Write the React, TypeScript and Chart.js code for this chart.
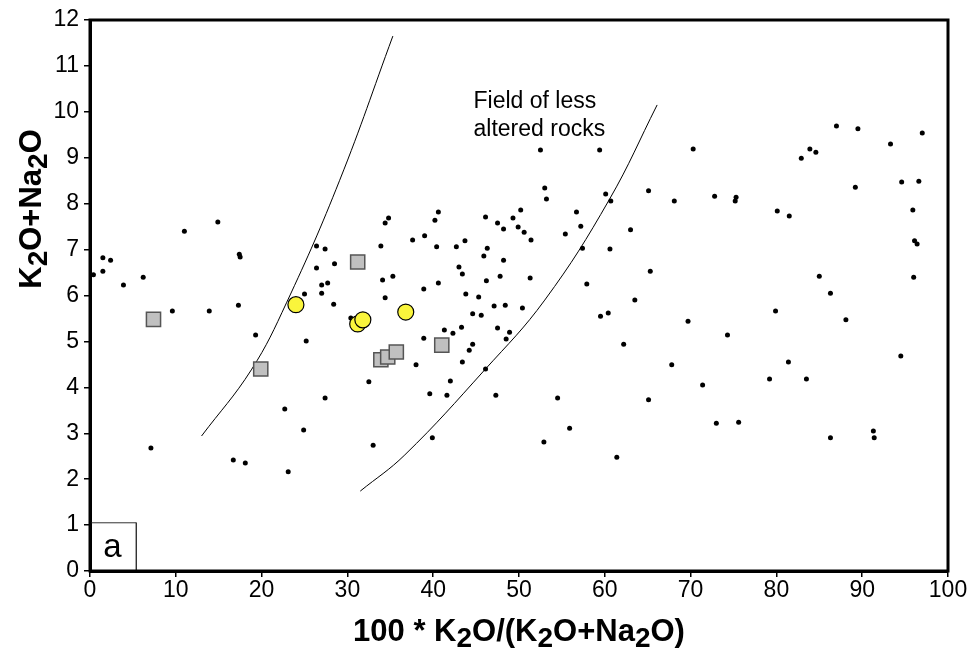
import React, { useEffect, useRef } from "react";
import { Chart, registerables } from "chart.js";

Chart.register(...registerables);

// ---- data ----
const smallDots: [number, number][] = [
  [0.4, 6.45], [1.5, 6.53], [1.5, 6.82], [2.4, 6.77], [3.9, 6.23], [6.2, 6.4], [9.6, 5.66], [11.0, 7.4],
  [13.9, 5.66], [14.9, 7.6], [17.4, 6.9], [17.5, 6.84], [17.3, 5.79], [7.1, 2.68], [16.7, 2.42], [18.1, 2.35],
  [19.3, 5.14], [22.7, 3.53], [23.1, 2.16], [24.9, 3.07], [25.2, 5.01], [25.0, 6.03], [26.4, 7.08], [27.4, 7.01],
  [26.4, 6.6], [28.5, 6.69], [27.0, 6.23], [27.7, 6.27], [27.0, 6.05], [28.4, 5.81], [27.4, 3.77], [30.4, 5.51],
  [32.5, 4.12], [33.0, 2.74], [33.9, 7.08], [34.1, 6.34], [34.4, 7.58], [34.8, 7.69], [35.3, 6.42], [34.4, 5.95],
  [37.6, 7.21], [39.0, 7.3], [40.2, 7.64], [40.6, 7.82], [40.4, 7.06], [42.7, 7.06], [43.7, 7.19], [46.1, 7.71],
  [47.5, 7.58], [48.2, 7.45], [49.3, 7.69], [50.2, 7.86], [49.9, 7.49], [50.6, 7.38], [51.4, 7.21], [46.3, 7.03],
  [45.9, 6.86], [48.2, 6.77], [43.0, 6.62], [43.4, 6.47], [46.2, 6.32], [47.8, 6.42], [51.3, 6.38], [40.6, 6.27],
  [38.9, 6.14], [43.8, 6.03], [45.3, 5.97], [47.1, 5.77], [48.4, 5.79], [50.4, 5.73], [44.6, 5.6], [45.6, 5.57],
  [41.3, 5.25], [43.3, 5.31], [47.5, 5.29], [38.9, 5.07], [42.3, 5.18], [48.5, 5.05], [48.9, 5.2], [44.2, 4.81],
  [44.6, 4.94], [38.0, 4.49], [43.4, 4.55], [46.1, 4.4], [42.0, 4.14], [39.6, 3.86], [41.6, 3.83], [47.3, 3.83],
  [39.9, 2.9], [52.5, 9.17], [53.0, 8.34], [53.2, 8.1], [55.4, 7.34], [56.7, 7.82], [57.2, 7.51], [57.4, 7.03],
  [57.9, 6.25], [59.4, 9.17], [60.1, 8.21], [60.7, 8.06], [60.6, 7.01], [59.5, 5.55], [60.4, 5.62], [62.2, 4.94],
  [63.0, 7.43], [63.5, 5.9], [65.1, 8.28], [65.3, 6.53], [65.1, 3.73], [54.5, 3.77], [55.9, 3.11], [52.9, 2.81],
  [61.4, 2.48], [67.8, 4.49], [68.1, 8.06], [69.7, 5.44], [70.3, 9.19], [71.4, 4.05], [72.8, 8.16], [73.0, 3.22],
  [74.3, 5.14], [75.2, 8.06], [75.3, 8.14], [75.6, 3.24], [79.2, 4.18], [79.9, 5.66], [80.1, 7.84], [81.4, 4.55],
  [81.5, 7.73], [82.9, 8.99], [83.5, 4.18], [83.9, 9.19], [84.6, 9.12], [85.0, 6.42], [86.3, 6.05], [86.3, 2.9],
  [87.0, 9.69], [88.1, 5.47], [89.2, 8.36], [89.5, 9.63], [91.3, 3.05], [91.4, 2.9], [93.3, 9.3], [94.5, 4.68],
  [94.6, 8.47], [95.9, 7.86], [96.0, 6.4], [96.1, 7.19], [96.4, 7.12], [96.6, 8.49], [97.0, 9.54],
];

const graySquares: [number, number][] = [
  [7.4, 5.48], [19.9, 4.4], [31.2, 6.73], [33.9, 4.6], [34.7, 4.66], [35.7, 4.77], [41.0, 4.92],
];

const yellowCircles: [number, number][] = [
  [24.0, 5.8], [31.2, 5.38], [31.8, 5.47], [36.8, 5.64],
];

const leftCurve: [number, number][] = [
  [13.0, 2.94], [18.8, 4.38], [22.9, 5.84], [29.1, 8.51], [35.3, 11.65],
];

const rightCurve: [number, number][] = [
  [31.5, 1.74], [36.7, 2.53], [46.0, 4.38], [53.0, 5.9], [60.5, 8.08], [66.1, 10.15],
];

const panelBox: [number, number][] = [[0, 1.05], [5.4, 1.05], [5.4, 0]];

const xTicks = [0, 10, 20, 30, 40, 50, 60, 70, 80, 90, 100];
const yTicks = [0, 1, 2, 3, 4, 5, 6, 7, 8, 9, 10, 11, 12];

const xTitle = "100 * K2O/(K2O+Na2O)";
const yTitle = "K2O+Na2O";
const fieldLabel = ["Field of less", "altered rocks"];
const fieldLabelPos: [number, number] = [44.7, 10.08];
const panelLetter = "a";
const panelLetterPos: [number, number] = [2.6, 0.5];

const FONT = "'Liberation Sans', Arial, Helvetica, sans-serif";

const toPts = (a: [number, number][]) => a.map(([x, y]) => ({ x, y }));

function drawRich(ctx: CanvasRenderingContext2D, text: string, size: number) {
  // subscripts: a '2' following K or a
  const segs: { t: string; sub: boolean }[] = [];
  for (let i = 0; i < text.length; i++) {
    const c = text[i];
    const sub = c === "2" && i > 0 && (text[i - 1] === "K" || text[i - 1] === "a");
    const last = segs[segs.length - 1];
    if (last && last.sub === sub && !sub) last.t += c;
    else segs.push({ t: c, sub });
  }
  const subSize = Math.round(size * 0.9);
  const widths = segs.map((s) => {
    ctx.font = `bold ${s.sub ? subSize : size}px ${FONT}`;
    return ctx.measureText(s.t).width;
  });
  const total = widths.reduce((a, b) => a + b, 0);
  let x = -total / 2;
  ctx.textBaseline = "alphabetic";
  ctx.textAlign = "left";
  segs.forEach((s, i) => {
    ctx.font = `bold ${s.sub ? subSize : size}px ${FONT}`;
    ctx.fillText(s.t, x, s.sub ? size * 0.18 : 0);
    x += widths[i];
  });
}

const decorPlugin = {
  id: "decor",
  afterDatasetsDraw(chart: any) {
    const { ctx, chartArea, scales } = chart;
    ctx.save();
    // frame
    ctx.strokeStyle = "#000";
    ctx.lineWidth = 3;
    ctx.strokeRect(chartArea.left, chartArea.top, chartArea.right - chartArea.left, chartArea.bottom - chartArea.top);
    // field label
    ctx.fillStyle = "#000";
    ctx.font = `23px ${FONT}`;
    ctx.textAlign = "left";
    ctx.textBaseline = "alphabetic";
    const fx = scales.x.getPixelForValue(fieldLabelPos[0]);
    const fy = scales.y.getPixelForValue(fieldLabelPos[1]);
    fieldLabel.forEach((l, i) => ctx.fillText(l, fx, fy + i * 28));
    // panel letter
    ctx.font = `33px ${FONT}`;
    ctx.textAlign = "center";
    ctx.textBaseline = "middle";
    ctx.fillText(panelLetter, scales.x.getPixelForValue(panelLetterPos[0]), scales.y.getPixelForValue(panelLetterPos[1]));
    ctx.restore();

    // axis titles
    ctx.save();
    ctx.fillStyle = "#000";
    ctx.translate((chartArea.left + chartArea.right) / 2, 641);
    drawRich(ctx, xTitle, 31);
    ctx.restore();
    ctx.save();
    ctx.fillStyle = "#000";
    ctx.translate(41, 209);
    ctx.rotate(-Math.PI / 2);
    drawRich(ctx, yTitle, 31);
    ctx.restore();
  },
};

export default function App() {
  const ref = useRef<HTMLCanvasElement | null>(null);
  useEffect(() => {
    document.body.style.margin = "0";
    const canvas = ref.current!;
    const chart = new Chart(canvas, {
      type: "scatter",
      data: {
        datasets: [
          {
            data: toPts(yellowCircles),
            backgroundColor: "#FAF53C",
            borderColor: "#000",
            borderWidth: 1.2,
            pointRadius: 8,
            pointStyle: "circle",
            order: 1,
          },
          {
            data: toPts(graySquares),
            backgroundColor: "#C0C0C0",
            borderColor: "#555",
            borderWidth: 1.5,
            pointRadius: 10,
            pointStyle: "rect",
            order: 2,
          },
          {
            data: toPts(smallDots),
            backgroundColor: "#000",
            borderColor: "#000",
            borderWidth: 0,
            pointRadius: 2.5,
            order: 3,
          },
          {
            data: toPts(leftCurve),
            showLine: true,
            borderColor: "#000",
            borderWidth: 1,
            pointRadius: 0,
            tension: 0.4,
            order: 5,
          } as any,
          {
            data: toPts(rightCurve),
            showLine: true,
            borderColor: "#000",
            borderWidth: 1,
            pointRadius: 0,
            tension: 0.4,
            order: 5,
          } as any,
          {
            data: toPts(panelBox),
            showLine: true,
            borderColor: "#333",
            borderWidth: 1,
            pointRadius: 0,
            tension: 0,
            order: 6,
          } as any,
        ],
      },
      options: {
        animation: false,
        responsive: false,
        devicePixelRatio: 1,
        layout: { padding: { left: 0, right: 27, top: 20, bottom: 0 } },
        plugins: { legend: { display: false }, tooltip: { enabled: false } },
        scales: {
          x: {
            type: "linear",
            min: 0,
            max: 100,
            afterBuildTicks: (s: any) => {
              s.ticks = xTicks.map((v) => ({ value: v }));
            },
            afterFit: (s: any) => {
              s.height = 78;
            },
            ticks: {
              color: "#000",
              font: { family: FONT, size: 23 },
              padding: 0,
              maxRotation: 0,
              autoSkip: false,
            },
            grid: { drawOnChartArea: false, drawTicks: true, tickLength: 6, color: "#000", lineWidth: 1.5 },
            border: { display: true, color: "#000", width: 3 },
          },
          y: {
            type: "linear",
            min: 0,
            max: 12,
            afterBuildTicks: (s: any) => {
              s.ticks = yTicks.map((v) => ({ value: v }));
            },
            afterFit: (s: any) => {
              s.width = 90;
            },
            ticks: {
              color: "#000",
              font: { family: FONT, size: 23 },
              padding: 5,
              autoSkip: false,
            },
            grid: { drawOnChartArea: false, drawTicks: true, tickLength: 6, color: "#000", lineWidth: 1.5 },
            border: { display: true, color: "#000", width: 3 },
          },
        },
      },
      plugins: [decorPlugin],
    });
    return () => chart.destroy();
  }, []);
  return <canvas ref={ref} width={975} height={649} style={{ display: "block" }} />;
}
